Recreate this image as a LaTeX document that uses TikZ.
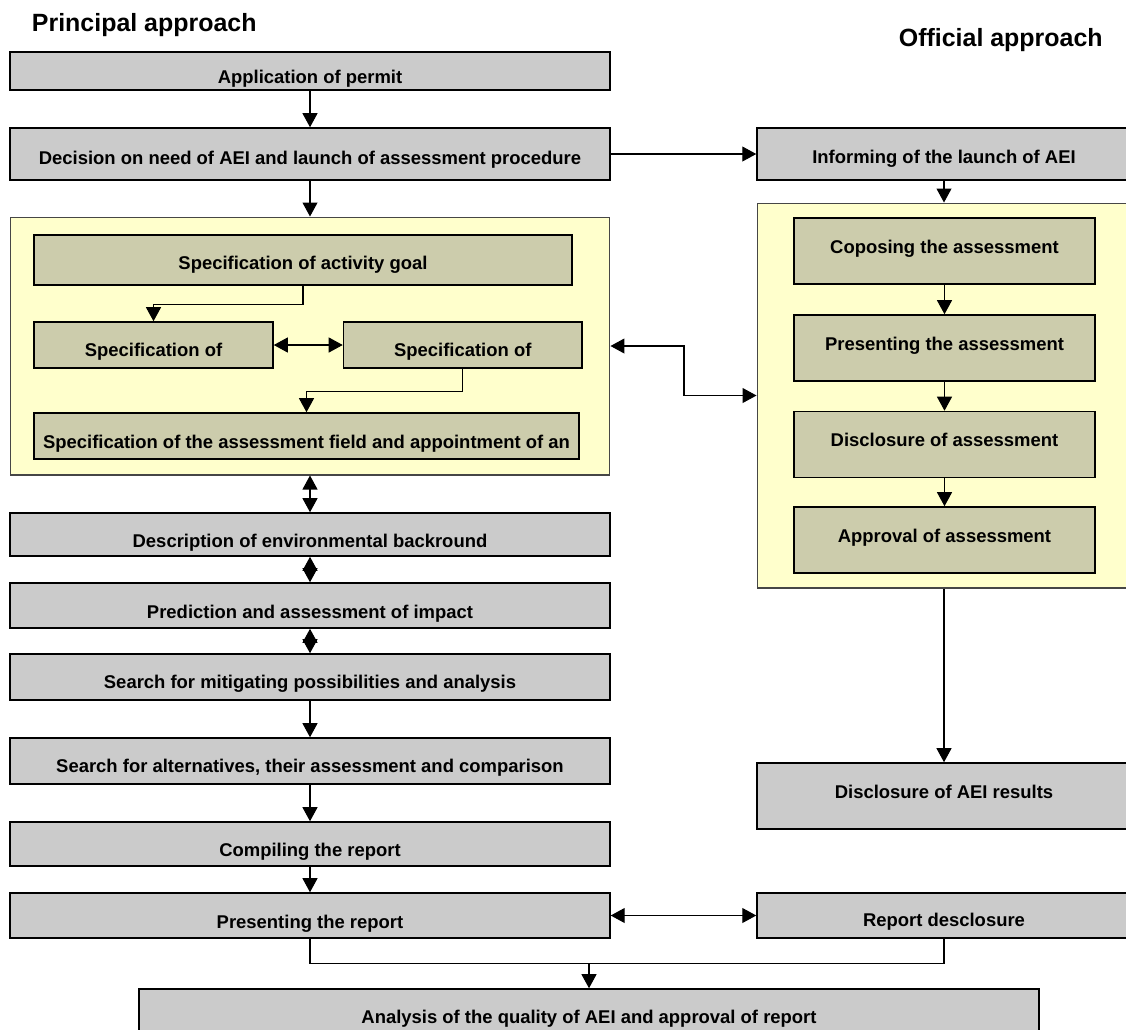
\documentclass[tikz,border=0pt]{standalone}
\usepackage{fontspec}
\setmainfont{Liberation Sans}
\usepackage{tikz}
\usetikzlibrary{arrows.meta}
\usetikzlibrary{positioning}
\definecolor{boxgray}{RGB}{203,203,203}
\definecolor{boxolive}{RGB}{204,204,172}
\definecolor{frameyellow}{RGB}{255,255,204}
\definecolor{framegray}{RGB}{70,70,70}
\tikzset{
    box/.style={draw=black, line width=0.9pt, fill=boxgray, inner sep=0pt,
        text height=0.5cm, text depth=0pt,
        font=\bfseries\fontsize{10.5}{12}\selectfont},
    innerbox/.style={box, fill=boxolive, text height=0.08cm},
    frame/.style={draw=framegray, line width=0.6pt, fill=frameyellow, inner sep=0pt},
    heading/.style={inner sep=0pt, font=\bfseries\fontsize{14.2}{16}\selectfont},
    line/.style={draw=black, line width=0.6pt},
    arr/.style={line, -{Triangle[length=0.28cm,width=0.3cm]}},
    darr/.style={line, {Triangle[length=0.28cm,width=0.3cm]}-{Triangle[length=0.28cm,width=0.3cm]}},
}
\begin{document}
\begin{tikzpicture}[x=0.02cm, y=-0.02cm]
    \path[use as bounding box] (0,0) rectangle (1126,1029);
    \clip (0,0) rectangle (1126,1029);
    \node[heading, anchor=base west] (hprin) at (31.6,31.7) {Principal approach};
    \node[heading, anchor=base east] (hoff) at (1103,46.7) {Official approach};
%
    \node[box, minimum width=12cm, minimum height=0.76cm] (app) at (310,71) {Application of permit};
    \node[box, minimum width=12cm, minimum height=1.04cm, text height=0.4cm] (dec) at (310,154) {Decision on need of AEI and launch of assessment procedure};
    \node[box, minimum width=7.48cm, minimum height=1.04cm, text height=0.36cm] (inf) at (944,154) {Informing of the launch of AEI};
%
    \node[frame, minimum width=12cm, minimum height=5.16cm] (lfrm) at (310,346) {};
    \node[innerbox, minimum width=10.76cm, minimum height=1cm, text height=0.37cm] (act) at (303,260) {Specification of activity goal};
    \node[innerbox, minimum width=4.78cm, minimum height=0.92cm, text height=0.47cm] (spa) at (153.5,345) {Specification of};
    \node[innerbox, minimum width=4.77cm, minimum height=0.92cm, text height=0.47cm] (spb) at (462.75,345) {Specification of};
    \node[innerbox, minimum width=10.9cm, minimum height=0.92cm, text height=0.5cm] (fld) at (306.5,436) {Specification of the assessment field and appointment of an};
%
    \node[frame, minimum width=7.48cm, minimum height=7.7cm] (rfrm) at (944,395.5) {};
    \node[innerbox, minimum width=6.02cm, minimum height=1.32cm] (cop) at (944.5,251) {Coposing the assessment};
    \node[innerbox, minimum width=6.02cm, minimum height=1.32cm] (pas) at (944.5,348) {Presenting the assessment};
    \node[innerbox, minimum width=6.02cm, minimum height=1.32cm] (das) at (944.5,444.5) {Disclosure of assessment};
    \node[innerbox, minimum width=6.02cm, minimum height=1.32cm] (apr) at (944.5,540) {Approval of assessment};
%
    \node[box, minimum width=12cm, minimum height=0.86cm, text height=0.53cm] (desc) at (310,534.5) {Description of environmental backround};
    \node[box, minimum width=12cm, minimum height=0.9cm] (pred) at (310,605.5) {Prediction and assessment of impact};
    \node[box, minimum width=12cm, minimum height=0.92cm, text height=0.44cm] (mit) at (310,677) {Search for mitigating possibilities and analysis};
    \node[box, minimum width=12cm, minimum height=0.92cm, text height=0.47cm] (alt) at (310,761) {Search for alternatives, their assessment and comparison};
    \node[box, minimum width=12cm, minimum height=0.88cm] (comp) at (310,844) {Compiling the report};
    \node[box, minimum width=12cm, minimum height=0.9cm] (prep) at (310,915.5) {Presenting the report};
    \node[box, minimum width=7.48cm, minimum height=0.9cm, text height=0.45cm] (rdis) at (944,915.5) {Report desclosure};
    \node[box, minimum width=7.48cm, minimum height=1.32cm, text height=0.09cm] (res) at (944,796) {Disclosure of AEI results};
    \node[box, minimum width=18cm, minimum height=1.22cm, text height=0.14cm] (ana) at (589,1019.5) {Analysis of the quality of AEI and approval of report};
    \coordinate (jn) at (589,963.5);
%
    \draw[arr] (app) -- (dec);
    \draw[arr] (dec) -- (inf);
    \draw[arr] (dec) -- (lfrm);
    \draw[arr] (act.south) -- ++(0,18.5) -| (spa.north);
    \draw[darr] (spa) -- (spb);
    \draw[arr] (spb.south) -- ++(0,22.5) -| (fld.north);
    \draw[darr] (lfrm.east) -- ++(73.5,0) |- (rfrm.west);
    \draw[arr] (inf) -- (rfrm);
    \draw[arr] (cop) -- (pas);
    \draw[arr] (pas) -- (das);
    \draw[arr] (das) -- (apr);
    \draw[arr] (rfrm) -- (res);
%
    \draw[darr] (lfrm) -- (desc);
    \draw[darr] (desc) -- (pred);
    \draw[darr] (pred) -- (mit);
    \draw[arr] (mit) -- (alt);
    \draw[arr] (alt) -- (comp);
    \draw[arr] (comp) -- (prep);
    \draw[darr] (prep) -- (rdis);
    \draw[line] (prep.south) |- (jn) -| (rdis.south);
    \draw[arr] (jn) -- (ana);
\end{tikzpicture}
\end{document}
